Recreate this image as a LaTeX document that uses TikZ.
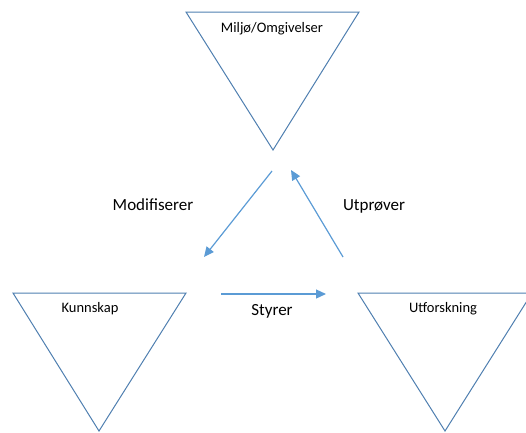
\documentclass[tikz,border=0pt]{standalone}
\usepackage{fontspec}
\setmainfont{Carlito}
\usetikzlibrary{arrows.meta}
\definecolor{triblue}{HTML}{4F7FB0}
\definecolor{arrblue}{HTML}{5B9BD5}
\begin{document}
\begin{tikzpicture}[x=1pt,y=-1pt,
  tri/.style={draw=triblue,line width=1pt,line join=miter},
  conn/.style={draw=arrblue,line width=1.2pt,-{Triangle[length=10pt,width=9pt]}},
  trilabel/.style={font=\fontsize{14.5}{16}\selectfont,text=black,inner sep=0pt},
  arrlabel/.style={font=\fontsize{17}{19}\selectfont,text=black,inner sep=0pt}]
\useasboundingbox (0,0) rectangle (526,432);
\begin{scope}
\clip (0,0) rectangle (526,432);
% triangles
\draw[tri] (186,12) -- (359,12) -- (273,150) -- cycle;
\draw[tri] (13,293) -- (186,293) -- (99,431) -- cycle;
\draw[tri] (358,293) -- (532,293) -- (445,431) -- cycle;
\end{scope}
% triangle labels
\node[trilabel] (miljo) at (272,29) {Miljø/Omgivelser};
\node[trilabel] (kunn) at (90,309) {Kunnskap};
\node[trilabel] (utfor) at (443,309) {Utforskning};
% arrow endpoints
\coordinate (m1) at (272,171);
\coordinate (m2) at (204,257);
\coordinate (u1) at (343,257);
\coordinate (u2) at (291,170);
\coordinate (s1) at (221,294);
\coordinate (s2) at (326,294);
\draw[conn] (m1) -- (m2);
\draw[conn] (u1) -- (u2);
\draw[conn] (s1) -- (s2);
% arrow labels
\node[arrlabel] (modl) at (153,205) {Modifiserer};
\node[arrlabel] (utpl) at (374,206) {Utprøver};
\node[arrlabel] (styl) at (272,311) {Styrer};
\end{tikzpicture}
\end{document}
